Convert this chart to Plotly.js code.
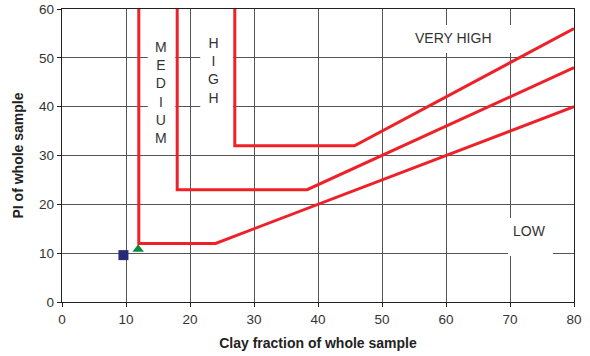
<!DOCTYPE html>
<html>
<head>
<meta charset="utf-8">
<script src="https://cdn.plot.ly/plotly-3.0.1.min.js"></script>
<style>html,body{margin:0;padding:0;background:#fff;}#chart{width:590px;height:356px;}</style>
</head>
<body>
<div id="chart"></div>
<script>
// Boundary lines (Clay fraction %, PI)
const lowMedX = [12, 12, 24, 80];
const lowMedY = [60, 12, 12, 40];
const medHighX = [18, 18, 38.3, 80];
const medHighY = [60, 23, 23, 48];
const highVhX = [27, 27, 45.7, 80];
const highVhY = [60, 32, 32, 56];
// Sample points
const squareX = [9.6];
const squareY = [9.6];
const triangleX = [11.9];
const triangleY = [10.8];
// Zone labels
const zoneLabels = ["M<br>E<br>D<br>I<br>U<br>M", "H<br>I<br>G<br>H", "VERY HIGH", "LOW"];
const zoneX = [15.5, 23.6, 61.1, 73.1];
const zoneY = [42.9, 47.5, 54.1, 14.5];
const xTicks = [0, 10, 20, 30, 40, 50, 60, 70, 80];
const yTicks = [0, 10, 20, 30, 40, 50, 60];

const red = '#ee2028';
const lineStyle = {color: red, width: 3};
const traces = [
  {x: lowMedX, y: lowMedY, mode: 'lines', line: lineStyle, hoverinfo: 'skip'},
  {x: medHighX, y: medHighY, mode: 'lines', line: lineStyle, hoverinfo: 'skip'},
  {x: highVhX, y: highVhY, mode: 'lines', line: lineStyle, hoverinfo: 'skip'},
  {x: squareX, y: squareY, mode: 'markers', marker: {symbol: 'square', size: 10, color: '#282c78'}},
  {x: triangleX, y: triangleY, mode: 'markers', marker: {symbol: 'triangle-up', size: 10, color: '#0a8a3c'}}
];

const boxes = [
  [13.4, 17.7, 31, 56],
  [21.6, 26.7, 35, 57],
  [53, 71, 51, 56.7],
  [69.7, 76.7, 9.4, 17.2]
];
const shapes = boxes.map(b => ({
  type: 'rect', xref: 'x', yref: 'y', x0: b[0], x1: b[1], y0: b[2], y1: b[3],
  fillcolor: '#ffffff', line: {width: 0}, layer: 'between'
}));

const annotations = zoneLabels.map((t, i) => ({
  x: zoneX[i], y: zoneY[i], xref: 'x', yref: 'y', text: t, showarrow: false,
  font: {family: 'Liberation Sans, Arial, sans-serif', size: 14, color: '#333'}
}));

const axisCommon = {
  showline: true, mirror: true, linecolor: '#222', linewidth: 1.3,
  showgrid: true, gridcolor: '#555', gridwidth: 1,
  ticks: 'outside', ticklen: 4, tickcolor: '#222',
  zeroline: false, tickfont: {family: 'Liberation Sans, Arial, sans-serif', size: 13.5, color: '#333'}
};

const layout = {
  width: 590, height: 356,
  margin: {l: 62, r: 16, t: 9, b: 54},
  paper_bgcolor: '#fff', plot_bgcolor: '#fff',
  showlegend: false,
  xaxis: Object.assign({}, axisCommon, {
    range: [0, 80], tickvals: xTicks,
    title: {text: 'Clay fraction of whole sample', standoff: 12,
      font: {family: 'Liberation Sans, Arial, sans-serif', size: 14, color: '#222', weight: 'bold'}}
  }),
  yaxis: Object.assign({}, axisCommon, {
    range: [0, 60], tickvals: yTicks,
    title: {text: 'PI of whole sample', standoff: 12,
      font: {family: 'Liberation Sans, Arial, sans-serif', size: 14, color: '#222', weight: 'bold'}}
  }),
  shapes: shapes,
  annotations: annotations
};

Plotly.newPlot('chart', traces, layout, {displayModeBar: false, staticPlot: true});
</script>
</body>
</html>
